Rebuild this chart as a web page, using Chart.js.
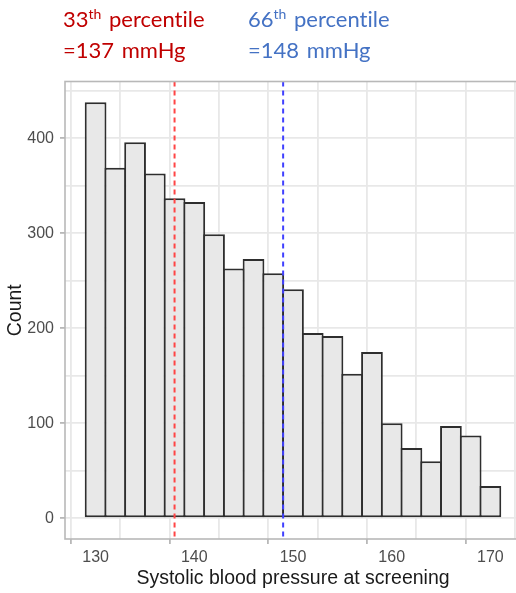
<!DOCTYPE html>
<html>
<head>
<meta charset="utf-8">
<script src="https://cdn.jsdelivr.net/npm/chart.js@4/dist/chart.umd.min.js"></script>
<style>
html, body { margin: 0; padding: 0; background: #fff; overflow: hidden; }
#wrap { position: relative; width: 516px; height: 593px; overflow: hidden; }
#c { position: absolute; left: 0; top: 0; }
.note { position: absolute; font-family: 'Lato', sans-serif; font-size: 22px; line-height: 28px; white-space: nowrap; word-spacing: 2px; font-variant-ligatures: none; font-feature-settings: "liga" 0, "clig" 0; }
.note .sup { font-size: 14px; position: relative; top: -8px; }
</style>
</head>
<body>
<div id="wrap">
  <canvas id="c" width="521" height="593" style="width:521px;height:593px"></canvas>
  <div class="note" style="left:63px;top:5px;color:#C00000">33<span class="sup">th</span> percentile<br>=137 mmHg</div>
  <div class="note" style="left:248px;top:5px;color:#4472C4">66<span class="sup">th</span> percentile<br>=148 mmHg</div>
</div>
<script>
// ---- data ----
const binCenters = [130, 132, 134, 136, 138, 140, 142, 144, 146, 148, 150, 152, 154, 156, 158, 160, 162, 164, 166, 168, 170];
const counts     = [438, 369, 396, 363, 337, 333, 299, 263, 273, 258, 241, 195, 192, 152, 175, 100, 74, 60, 97, 87, 34];
const cutoffLines = [138, 149];
const xGridValues = [130, 135, 140, 145, 150, 155, 160, 165, 170];
const xTickLabels = [130, 140, 150, 160, 170];
const yGridValues = [0, 50, 100, 150, 200, 250, 300, 350, 400, 450];
const yTickLabels = [0, 100, 200, 300, 400];
const xRange = [126.9, 173.1];
const yRange = [-21.9, 459.9];

const cutoffColors = ['#ff4545', '#4040ff'];
const GRID = '#e8e8e8';
const TICKC = '#b8b8b8';

const panelPlugin = {
  id: 'panel',
  afterDatasetsDraw(chart) {
    const { ctx, chartArea: a, scales } = chart;
    ctx.save();
    ctx.lineWidth = 2;
    ctx.setLineDash([5, 4]);
    cutoffLines.forEach((v, i) => {
      const x = scales.x.getPixelForValue(v);
      ctx.strokeStyle = cutoffColors[i];
      ctx.beginPath();
      ctx.moveTo(x, a.top);
      ctx.lineTo(x, a.bottom);
      ctx.stroke();
    });
    ctx.setLineDash([]);
    ctx.strokeStyle = TICKC;
    ctx.lineWidth = 1.6;
    ctx.strokeRect(a.left, a.top, a.right - a.left, a.bottom - a.top);
    ctx.restore();
  }
};

new Chart(document.getElementById('c'), {
  type: 'bar',
  data: {
    datasets: [{
      data: binCenters.map((x, i) => ({ x, y: counts[i] })),
      backgroundColor: '#e8e8e8',
      borderColor: '#2e2e2e',
      borderWidth: 2,
      borderSkipped: false,
      barPercentage: 1.101,
      categoryPercentage: 1
    }]
  },
  options: {
    responsive: false,
    animation: false,
    devicePixelRatio: 1,
    layout: { padding: { top: 81.5, left: 0, right: 0, bottom: 0 } },
    plugins: { legend: { display: false }, tooltip: { enabled: false } },
    scales: {
      x: {
        type: 'linear',
        min: xRange[0], max: xRange[1],
        offset: false,
        afterBuildTicks: s => { s.ticks = xGridValues.map(v => ({ value: v })); },
        afterFit: s => { s.height = 54; },
        border: { display: false },
        grid: {
          color: GRID, lineWidth: 1.8, tickLength: 5,
          tickColor: c => xTickLabels.includes(c.tick && c.tick.value) ? TICKC : 'rgba(0,0,0,0)'
        },
        ticks: {
          autoSkip: false, maxRotation: 0, padding: 4, color: '#4d4d4d',
          font: { family: 'Liberation Sans', size: 16 },
          callback: v => xTickLabels.includes(v) ? String(v) : ''
        },
        title: {
          display: true, text: 'Systolic blood pressure at screening', color: '#1a1a1a',
          font: { family: 'Liberation Sans', size: 19.5 }, padding: { top: 0, bottom: 3 }
        }
      },
      y: {
        type: 'linear',
        min: yRange[0], max: yRange[1],
        afterBuildTicks: s => { s.ticks = yGridValues.map(v => ({ value: v })); },
        afterFit: s => { s.width = 65; },
        border: { display: false },
        grid: {
          color: GRID, lineWidth: 1.8, tickLength: 5,
          tickColor: c => yTickLabels.includes(c.tick && c.tick.value) ? TICKC : 'rgba(0,0,0,0)'
        },
        ticks: {
          autoSkip: false, padding: 6, color: '#4d4d4d',
          font: { family: 'Liberation Sans', size: 16 },
          callback: v => yTickLabels.includes(v) ? String(v) : ''
        },
        title: {
          display: true, text: 'Count', color: '#1a1a1a',
          font: { family: 'Liberation Sans', size: 19.5 }, padding: { top: 4, bottom: 0 }
        }
      }
    }
  },
  plugins: [panelPlugin]
});
</script>
</body>
</html>
